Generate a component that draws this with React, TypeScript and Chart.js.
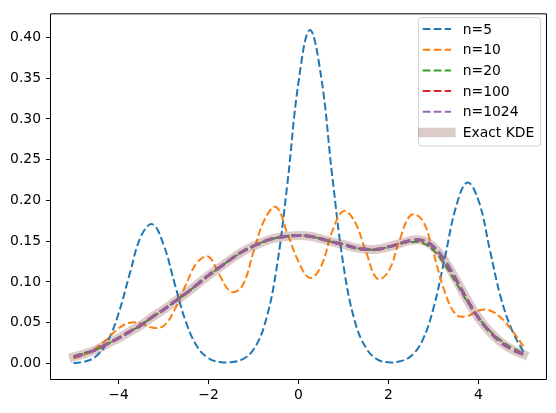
import React, { useEffect, useRef } from 'react';
import { Chart, registerables } from 'chart.js';

Chart.register(...registerables);

const xValues = [-5, -4.75, -4.5, -4.25, -4, -3.75, -3.5, -3.25, -3, -2.75, -2.5, -2.25, -2, -1.75, -1.5, -1.25, -1, -0.75, -0.5, -0.25, 0, 0.25, 0.5, 0.75, 1, 1.25, 1.5, 1.75, 2, 2.25, 2.5, 2.75, 3, 3.25, 3.5, 3.75, 4, 4.25, 4.5, 4.75, 5];

const n5 = [0.0005, 0.0023, 0.0087, 0.0262, 0.061, 0.110, 0.156, 0.171, 0.146, 0.0975, 0.0506, 0.0205, 0.0064, 0.0017, 0.0015, 0.005, 0.017, 0.048, 0.112, 0.219, 0.345, 0.409, 0.353, 0.230, 0.120, 0.052, 0.019, 0.005, 0.0014, 0.0026, 0.009, 0.0277, 0.068, 0.129, 0.192, 0.222, 0.200, 0.140, 0.080, 0.040, 0.014];

const n10 = [0.006, 0.011, 0.019, 0.030, 0.043, 0.050, 0.049, 0.044, 0.046, 0.066, 0.097, 0.124, 0.131, 0.108, 0.088, 0.095, 0.137, 0.177, 0.192, 0.160, 0.125, 0.105, 0.119, 0.162, 0.187, 0.174, 0.137, 0.104, 0.113, 0.152, 0.182, 0.176, 0.135, 0.088, 0.060, 0.058, 0.065, 0.065, 0.056, 0.040, 0.021];

const n20 = [0.009, 0.013, 0.017, 0.024, 0.031, 0.039, 0.047, 0.057, 0.066, 0.076, 0.086, 0.097, 0.108, 0.118, 0.128, 0.137, 0.144, 0.150, 0.154, 0.156, 0.157, 0.156, 0.153, 0.149, 0.146, 0.142, 0.140, 0.140, 0.143, 0.147, 0.149, 0.148, 0.139, 0.121, 0.099, 0.076, 0.056, 0.040, 0.028, 0.019, 0.013];

const n100 = [0.008, 0.012, 0.017, 0.024, 0.031, 0.039, 0.047, 0.057, 0.066, 0.076, 0.086, 0.097, 0.108, 0.118, 0.128, 0.137, 0.144, 0.150, 0.154, 0.156, 0.157, 0.156, 0.153, 0.149, 0.146, 0.142, 0.140, 0.140, 0.143, 0.147, 0.151, 0.151, 0.143, 0.126, 0.103, 0.078, 0.056, 0.039, 0.026, 0.017, 0.011];

const n1024 = [0.008, 0.012, 0.017, 0.024, 0.031, 0.039, 0.047, 0.057, 0.066, 0.076, 0.086, 0.097, 0.108, 0.118, 0.128, 0.137, 0.144, 0.150, 0.154, 0.156, 0.157, 0.156, 0.153, 0.149, 0.146, 0.142, 0.140, 0.140, 0.143, 0.147, 0.151, 0.151, 0.143, 0.126, 0.103, 0.078, 0.056, 0.039, 0.026, 0.017, 0.011];

const exactKde = [0.008, 0.012, 0.017, 0.024, 0.031, 0.039, 0.047, 0.057, 0.066, 0.076, 0.086, 0.097, 0.108, 0.118, 0.128, 0.137, 0.144, 0.150, 0.154, 0.156, 0.157, 0.156, 0.153, 0.149, 0.146, 0.142, 0.140, 0.140, 0.143, 0.147, 0.151, 0.151, 0.143, 0.126, 0.103, 0.078, 0.056, 0.039, 0.026, 0.017, 0.011];

const seriesLabels = ['n=5', 'n=10', 'n=20', 'n=100', 'n=1024', 'Exact KDE'];
const seriesValues = [n5, n10, n20, n100, n1024, exactKde];
const seriesColors = ['#1f77b4', '#ff7f0e', '#2ca02c', '#d62728', '#9467bd', 'rgba(140,86,75,0.3)'];
const seriesWidths = [2, 2, 2, 3, 3, 9];
const seriesDashes = [[7.7, 3.3], [7.7, 3.3], [7.7, 3.3], [10, 4], [10, 4], []];

const X_MIN = -5.5;
const X_MAX = 5.5;
const Y_MIN = -0.0191;
const Y_MAX = 0.4296;

const FONT = '"DejaVu Sans", sans-serif';

const framePlugin = {
  id: 'mplFrame',
  afterDatasetsDraw(chart: any) {
    const { ctx, chartArea } = chart;
    const { left, right, top, bottom } = chartArea;
    ctx.save();
    ctx.strokeStyle = '#000';
    ctx.lineWidth = 1;
    ctx.setLineDash([]);
    ctx.beginPath();
    ctx.moveTo(left - 0.5, top + 0.5);
    ctx.lineTo(right + 0.5, top + 0.5);
    ctx.lineTo(right + 0.5, bottom + 0.5);
    ctx.lineTo(left - 0.5, bottom + 0.5);
    ctx.closePath();
    ctx.stroke();
    ctx.restore();
  },
  afterDraw(chart: any) {
    const { ctx } = chart;
    const bx = 418.5, by = 17.5, bw = 122, bh = 128.5, r = 3;
    ctx.save();
    ctx.beginPath();
    ctx.moveTo(bx + r, by);
    ctx.lineTo(bx + bw - r, by);
    ctx.arcTo(bx + bw, by, bx + bw, by + r, r);
    ctx.lineTo(bx + bw, by + bh - r);
    ctx.arcTo(bx + bw, by + bh, bx + bw - r, by + bh, r);
    ctx.lineTo(bx + r, by + bh);
    ctx.arcTo(bx, by + bh, bx, by + bh - r, r);
    ctx.lineTo(bx, by + r);
    ctx.arcTo(bx, by, bx + r, by, r);
    ctx.closePath();
    ctx.fillStyle = 'rgba(255,255,255,0.8)';
    ctx.fill();
    ctx.strokeStyle = '#d4d4d4';
    ctx.lineWidth = 1;
    ctx.stroke();

    const x0 = 422.7, x1 = 451, tx = 462.7;
    const y0 = 29, step = 20.7;
    ctx.font = `13.9px ${FONT}`;
    ctx.textBaseline = 'middle';
    ctx.textAlign = 'left';
    chart.data.datasets.forEach((ds: any, i: number) => {
      const y = y0 + i * step;
      ctx.beginPath();
      ctx.strokeStyle = ds.borderColor;
      ctx.lineWidth = i === 5 ? 9.3 : 2;
      ctx.setLineDash(i === 5 ? [] : [7.7, 3.3]);
      ctx.lineCap = i === 5 ? 'square' : 'butt';
      ctx.moveTo(x0, y);
      ctx.lineTo(x1, y);
      ctx.stroke();
      ctx.setLineDash([]);
      ctx.fillStyle = '#000';
      ctx.fillText(ds.label, tx, y + 1);
    });
    ctx.restore();
  },
};

export default function App() {
  const canvasRef = useRef<HTMLCanvasElement | null>(null);

  useEffect(() => {
    const canvas = canvasRef.current;
    if (!canvas) return;
    const datasets = seriesLabels.map((label, i) => ({
      label,
      data: xValues.map((x, j) => ({ x, y: seriesValues[i][j] })),
      borderColor: seriesColors[i],
      backgroundColor: seriesColors[i],
      borderWidth: seriesWidths[i],
      borderDash: seriesDashes[i],
      borderCapStyle: i === 5 ? 'square' : 'butt',
      pointRadius: 0,
      pointHoverRadius: 0,
      tension: 0.4,
      fill: false,
      order: -i,
    }));

    const chart = new Chart(canvas, {
      type: 'line',
      data: { datasets } as any,
      options: {
        animation: false,
        responsive: false,
        maintainAspectRatio: false,
        layout: { padding: { left: 0, top: 10, right: 10, bottom: 0 } },
        plugins: {
          legend: { display: false },
          tooltip: { enabled: false },
        },
        scales: {
          x: {
            type: 'linear',
            min: X_MIN,
            max: X_MAX,
            afterFit: (scale: any) => { scale.height = 34; },
            border: { display: false },
            grid: {
              drawOnChartArea: false,
              drawTicks: true,
              tickLength: 5,
              color: '#000',
              lineWidth: 1,
            },
            ticks: {
              stepSize: 2,
              includeBounds: false,
              maxRotation: 0,
              padding: 3,
              color: '#000',
              font: { family: FONT, size: 13.9 },
              callback: (v: any) => {
                const n = Number(v);
                return n < 0 ? '\u2212' + Math.abs(n) : String(n);
              },
            },
          },
          y: {
            type: 'linear',
            min: Y_MIN,
            max: Y_MAX,
            afterFit: (scale: any) => { scale.width = 51; },
            border: { display: false },
            grid: {
              drawOnChartArea: false,
              drawTicks: true,
              tickLength: 5,
              color: '#000',
              lineWidth: 1,
            },
            ticks: {
              stepSize: 0.05,
              includeBounds: false,
              padding: 5,
              color: '#000',
              font: { family: FONT, size: 13.9 },
              callback: (v: any) => Number(v).toFixed(2),
            },
          },
        },
      } as any,
      plugins: [framePlugin],
    });

    return () => {
      chart.destroy();
    };
  }, []);

  return (
    <div style={{ position: 'fixed', left: 0, top: 0, width: 556, height: 413, background: '#fff' }}>
      <canvas ref={canvasRef} width={556} height={413} style={{ display: 'block' }} />
    </div>
  );
}
